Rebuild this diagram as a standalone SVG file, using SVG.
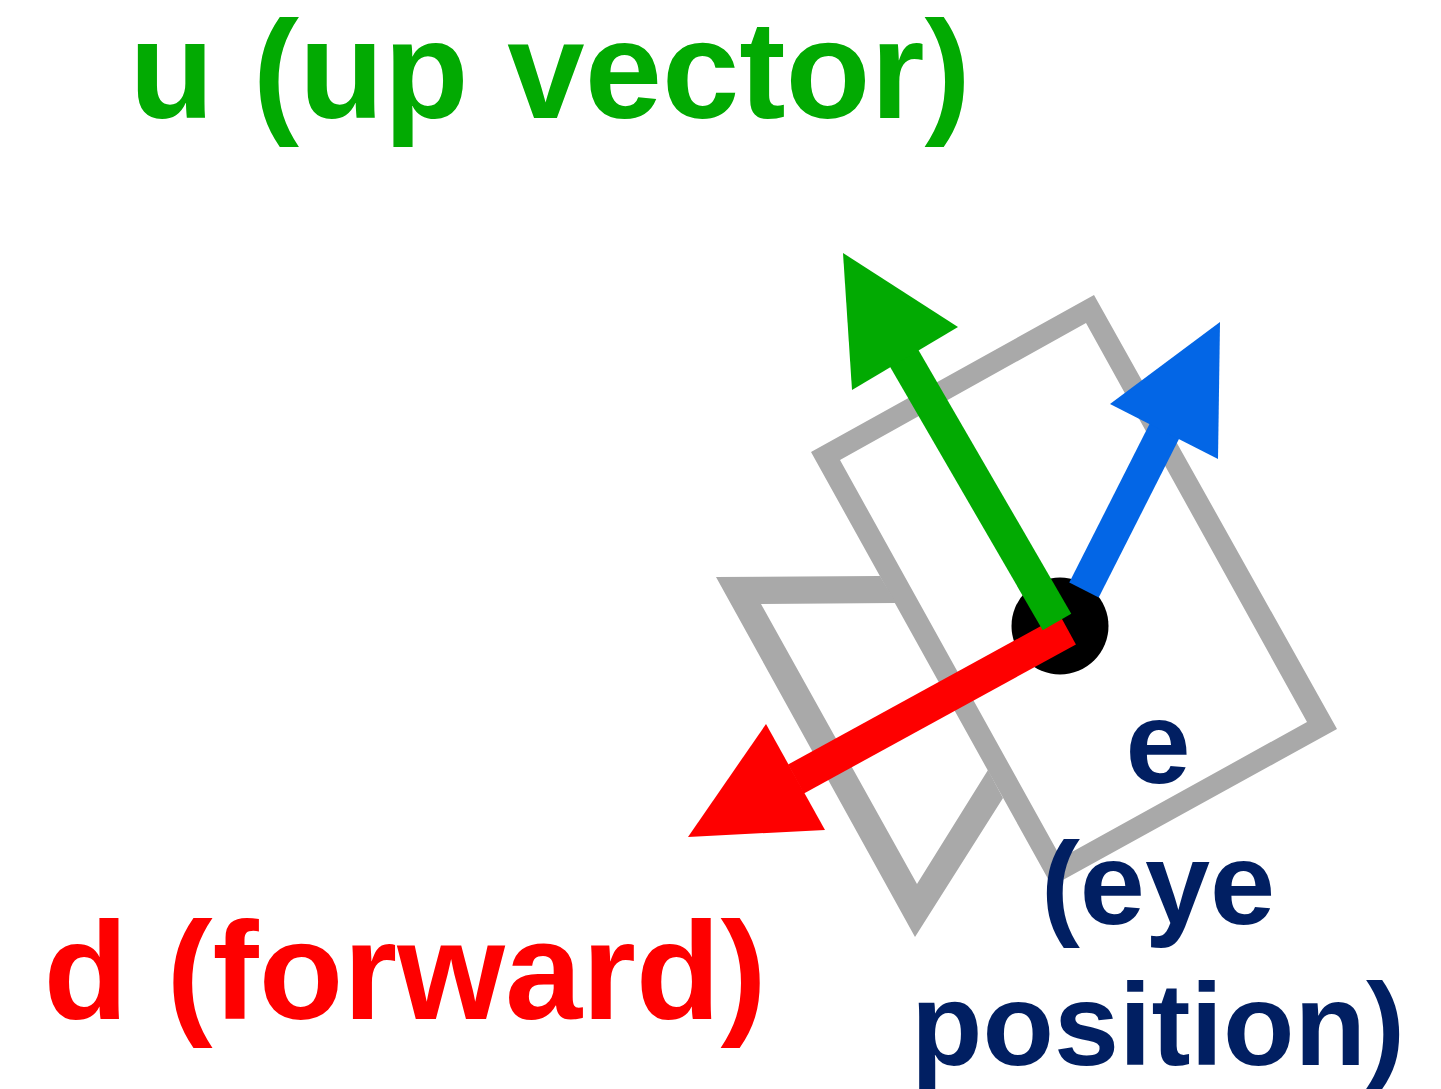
<svg xmlns="http://www.w3.org/2000/svg" width="1441" height="1089" viewBox="0 0 1441 1089">
<style>
text{font-family:"Liberation Sans",Arial,sans-serif;font-weight:700;text-anchor:middle}
.g{fill:#a9a9a9;fill-rule:evenodd}
</style>
<rect width="1441" height="1089" fill="#fff"/>
<g id="frames">
<path class="g" d="M1094 295L1337 729L1052 886L811 452ZM1086 323L840 460L1061 858L1307 722Z"/>
<path class="g" d="M716 577L880 576L896 603L761 604L917 884L988 770L1003 798L915 937Z"/>
</g>
<g id="eye"><circle cx="1060" cy="626" r="48.500" fill="#000"/></g>
<g id="connectors">
<path d="M1084 590L1165 430" stroke="#0366e6" stroke-width="33" fill="none"/>
<path d="M1220 322L1110 404L1218 459Z" fill="#0366e6"/>
<path d="M1068 630L796 779" stroke="#fe0000" stroke-width="33" fill="none"/>
<path d="M688 837L825 830L766 724Z" fill="#fe0000"/>
<path d="M1057 622L904 358" stroke="#02aa02" stroke-width="33" fill="none"/>
<path d="M843 253L852 390L958 327Z" fill="#02aa02"/>
</g>
<g id="label-u"><text x="550" y="118" font-size="139" fill="#02aa02">u (up vector)</text></g>
<g id="label-d"><text x="405" y="1019" font-size="138.500" fill="#fe0000">d (forward)</text></g>
<g id="label-e">
<text x="1158" y="783" font-size="117" fill="#011f62">e</text>
<text x="1158" y="924" font-size="117" fill="#011f62">(eye</text>
<text x="1158" y="1065" font-size="117" fill="#011f62">position)</text>
</g>
</svg>
